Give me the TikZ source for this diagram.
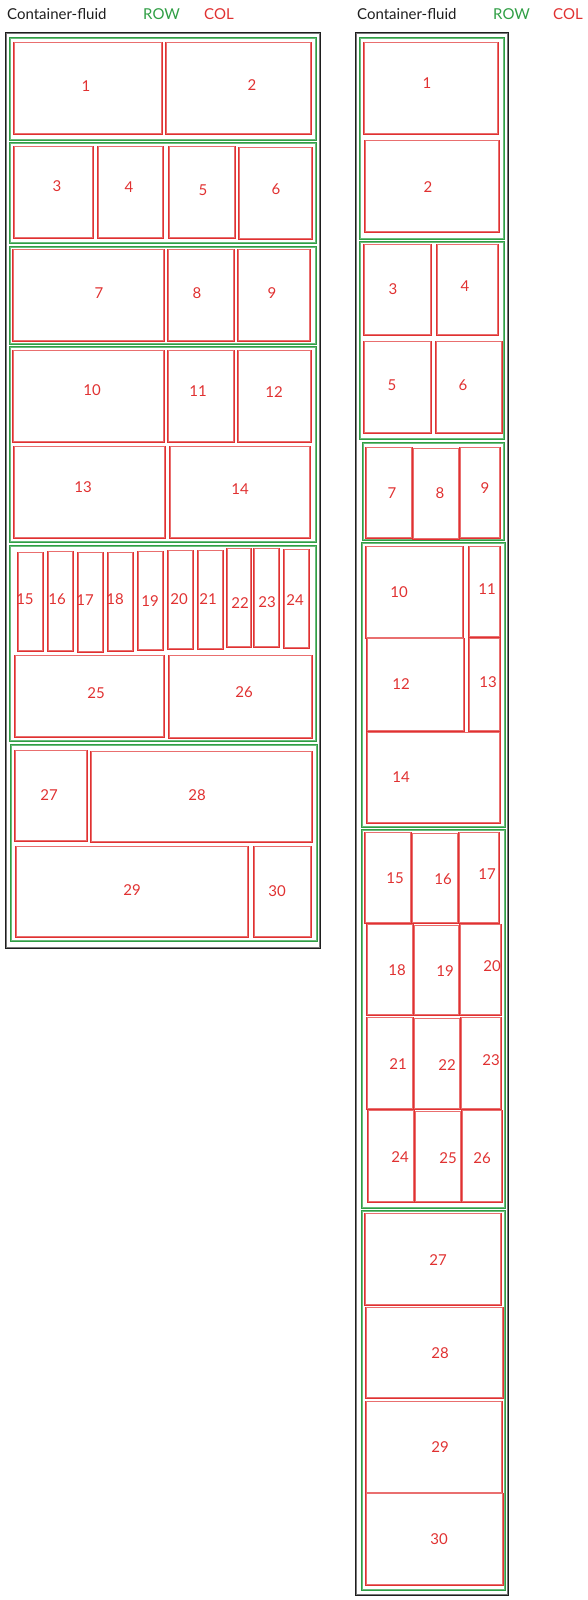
\documentclass[tikz,border=0pt]{standalone}
\usepackage{fontspec}
\setmainfont{Lato}
\definecolor{exred}{HTML}{E03131}
\definecolor{exgreen}{HTML}{2F9E44}
\definecolor{exblack}{HTML}{1E1E1E}
\tikzset{
  colline/.style={draw=exred, line width=0.8pt},
  colline2/.style={draw=exred!70, line width=0.5pt},
  rowline/.style={draw=exgreen, line width=0.9pt},
  rowline2/.style={draw=exgreen!70, line width=0.5pt},
  contline/.style={draw=exblack, line width=0.9pt},
  numlbl/.style={text=exred, font=\fontsize{15}{17}\selectfont, inner sep=0pt},
  hdr/.style={anchor=west, font=\fontsize{15}{17}\selectfont, inner sep=0pt}
}
% #1 x1, #2 y1, #3 x2, #4 y2, #5 text, #6 lx, #7 ly, #8 node name
\newcommand\rcol[8]{%
  \draw[colline] (#1,#2) rectangle (#3,#4);
  \draw[colline2] (#1+0.8,#2+0.6) rectangle (#3-0.6,#4-0.8);
  \node[numlbl] (#8) at (#6,#7) {#5};}
\newcommand\grow[4]{%
  \draw[rowline] (#1,#2) rectangle (#3,#4);
  \draw[rowline2] (#1+1,#2+0.8) rectangle (#3-0.8,#4-1);}
\begin{document}
\begin{tikzpicture}[x=1pt,y=-1pt]
\useasboundingbox (0,0) rectangle (587,1600);
% headers
\node[hdr, text=exblack] (hcL) at (7,14) {Container-fluid};
\node[hdr, text=exgreen] (hrL) at (143,14) {ROW};
\node[hdr, text=exred] (hkL) at (204,14) {COL};
\node[hdr, text=exblack] (hcR) at (357,14) {Container-fluid};
\node[hdr, text=exgreen] (hrR) at (493,14) {ROW};
\node[hdr, text=exred] (hkR) at (553,14) {COL};

% ===== LEFT =====
\draw[contline] (5,32) rectangle (320,948);
\draw[contline, draw=exblack!60, line width=0.5pt] (6.2,33) rectangle (319,947);
\grow{9}{37}{316}{140}
\grow{9}{142}{316}{243}
\grow{9}{246}{316}{344}
\grow{9}{346}{316}{542}
\grow{9}{545}{316}{741}
\grow{10}{744}{317}{941}

\rcol{13}{42}{162}{134}{1}{86}{86}{L1}
\rcol{165}{42}{311}{134}{2}{252}{85}{L2}
\rcol{13}{146}{93}{238}{3}{57}{186}{L3}
\rcol{97}{146}{163}{238}{4}{129}{187}{L4}
\rcol{168}{146}{235}{238}{5}{203}{190}{L5}
\rcol{238}{147}{312}{239}{6}{276}{189}{L6}
\rcol{12}{249}{164}{341}{7}{99}{293}{L7}
\rcol{167}{249}{234}{341}{8}{197}{293}{L8}
\rcol{237}{249}{310}{341}{9}{272}{293}{L9}
\rcol{12}{350}{164}{442}{10}{92}{390}{L10}
\rcol{167}{350}{234}{442}{11}{198}{391}{L11}
\rcol{237}{350}{311}{442}{12}{274}{392}{L12}
\rcol{13}{446}{165}{538}{13}{83}{487}{L13}
\rcol{169}{446}{310}{538}{14}{240}{489}{L14}
\rcol{17}{552}{43}{651}{15}{25}{599}{L15}
\rcol{47}{551}{73}{651}{16}{57}{599}{L16}
\rcol{77}{552}{103}{652}{17}{85}{600}{L17}
\rcol{107}{552}{133}{651}{18}{115}{599}{L18}
\rcol{137}{551}{163}{650}{19}{150}{601}{L19}
\rcol{167}{550}{193}{649}{20}{179}{599}{L20}
\rcol{197}{550}{223}{649}{21}{208}{599}{L21}
\rcol{226}{548}{251}{647}{22}{240}{603}{L22}
\rcol{253}{548}{279}{647}{23}{267}{602}{L23}
\rcol{283}{549}{309}{648}{24}{295}{600}{L24}
\rcol{14}{655}{164}{737}{25}{96}{693}{L25}
\rcol{168}{655}{312}{738}{26}{244}{692}{L26}
\rcol{14}{750}{87}{841}{27}{49}{795}{L27}
\rcol{90}{751}{312}{842}{28}{197}{795}{L28}
\rcol{15}{846}{248}{937}{29}{132}{890}{L29}
\rcol{253}{846}{311}{937}{30}{277}{891}{L30}

% ===== RIGHT =====
\draw[contline] (355,32) rectangle (508,1595);
\draw[contline, draw=exblack!60, line width=0.5pt] (356.2,33) rectangle (507,1594);
\grow{359}{37}{504}{239}
\grow{359}{241}{504}{439}
\grow{362}{442}{504}{540}
\grow{361}{542}{505}{827}
\grow{361}{829}{505}{1208}
\grow{361}{1210}{505}{1590}

\rcol{363}{42}{498}{134}{1}{427}{83}{R1}
\rcol{364}{140}{499}{232}{2}{428}{187}{R2}
\rcol{363}{244}{431}{335}{3}{393}{289}{R3}
\rcol{436}{244}{498}{335}{4}{465}{286}{R4}
\rcol{363}{341}{431}{433}{5}{392}{385}{R5}
\rcol{435}{341}{502}{433}{6}{463}{385}{R6}
\rcol{365}{447}{412}{538}{7}{392}{493}{R7}
\rcol{412}{448}{459}{539}{8}{440}{493}{R8}
\rcol{459}{447}{500}{538}{9}{485}{488}{R9}
\rcol{365}{546}{463}{638}{10}{399}{592}{R10}
\rcol{468}{546}{500}{637}{11}{487}{589}{R11}
\rcol{366}{638}{464}{731}{12}{401}{684}{R12}
\rcol{468}{638}{500}{731}{13}{488}{682}{R13}
\rcol{366}{732}{500}{823}{14}{401}{777}{R14}
\rcol{364}{832}{411}{923}{15}{395}{878}{R15}
\rcol{411}{833}{458}{923}{16}{443}{879}{R16}
\rcol{458}{832}{499}{923}{17}{487}{874}{R17}
\rcol{366}{924}{413}{1015}{18}{397}{970}{R18}
\rcol{413}{925}{459}{1015}{19}{445}{971}{R19}
\rcol{459}{924}{501}{1015}{20}{492}{966}{R20}
\rcol{366}{1017}{413}{1109}{21}{398}{1064}{R21}
\rcol{413}{1018}{460}{1109}{22}{447}{1065}{R22}
\rcol{460}{1017}{501}{1109}{23}{491}{1060}{R23}
\rcol{367}{1110}{414}{1202}{24}{400}{1157}{R24}
\rcol{414}{1111}{461}{1202}{25}{448}{1158}{R25}
\rcol{461}{1110}{502}{1202}{26}{482}{1158}{R26}
\rcol{364}{1213}{501}{1305}{27}{438}{1260}{R27}
\rcol{365}{1307}{503}{1398}{28}{440}{1353}{R28}
\rcol{365}{1401}{502}{1493}{29}{440}{1447}{R29}
\rcol{365}{1493}{503}{1585}{30}{439}{1539}{R30}
\end{tikzpicture}
\end{document}
